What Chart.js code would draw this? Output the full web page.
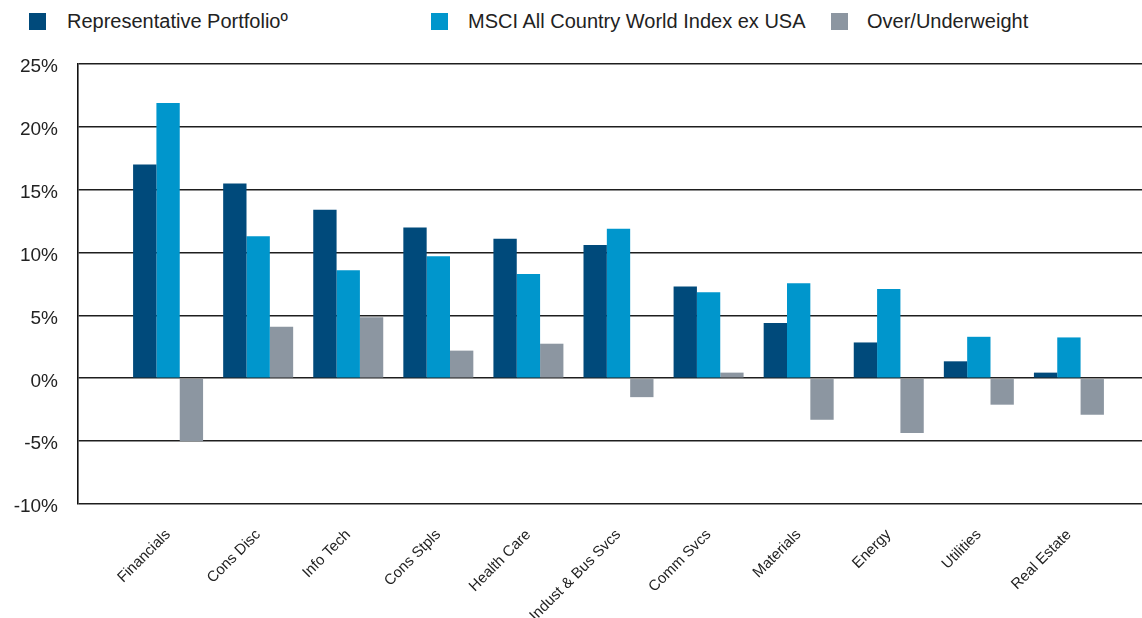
<!DOCTYPE html>
<html>
<head>
<meta charset="utf-8">
<script src="https://cdn.jsdelivr.net/npm/chart.js@4.4.1/dist/chart.umd.min.js"></script>
<style>
  html, body { margin: 0; padding: 0; background: #fff; overflow: hidden; }
  body { width: 1142px; height: 618px; position: relative; font-family: "Liberation Sans", Arial, sans-serif; }
  .legend { position: absolute; top: 12px; left: 0; height: 20px; color: #222; font-size: 20px; }
  .legend span { position: absolute; white-space: nowrap; top: 0; line-height: 19px; }
  .legend i { position: absolute; width: 17px; height: 17px; top: 1px; }
  #wrap { position: absolute; left: 0; top: 0; width: 1159px; height: 618px; }
</style>
</head>
<body>
<div class="legend">
  <i style="left:29px;background:#004a7b"></i><span style="left:67px">Representative Portfolio&ordm;</span>
  <i style="left:431px;background:#0096cc"></i><span style="left:468px">MSCI All Country World Index ex USA</span>
  <i style="left:831px;background:#8c96a1"></i><span style="left:867px">Over/Underweight</span>
</div>
<div id="wrap"><canvas id="chart"></canvas></div>
<script>
// sectores
const sectores = ['Financials', 'Cons Disc', 'Info Tech', 'Cons Stpls', 'Health Care',
  'Indust & Bus Svcs', 'Comm Svcs', 'Materials', 'Energy', 'Utilities', 'Real Estate'];

// pesos (%)
const cartera = [17.0, 15.5, 13.4, 12.0, 11.1, 10.6, 7.3, 4.4, 2.85, 1.35, 0.45];
const indice = [21.9, 11.3, 8.6, 9.7, 8.3, 11.9, 6.85, 7.55, 7.1, 3.3, 3.25];
const diferencia = [-5.0, 4.1, 4.85, 2.2, 2.75, -1.5, 0.45, -3.3, -4.35, -2.1, -2.9];

const nombres = ['Representative Portfolio\u00ba', 'MSCI All Country World Index ex USA', 'Over/Underweight'];
const colores = ['#004a7b', '#0096cc', '#8c96a1'];

// hueco vacio a cada lado, como en el original
const relleno = (arr) => [null, ...arr, null];

const ctx = document.getElementById('chart');
new Chart(ctx, {
  type: 'bar',
  data: {
    labels: relleno(sectores).map(x => x || ''),
    datasets: [
      { label: nombres[0], data: relleno(cartera), backgroundColor: colores[0] },
      { label: nombres[1], data: relleno(indice), backgroundColor: colores[1] },
      { label: nombres[2], data: relleno(diferencia), backgroundColor: colores[2] }
    ]
  },
  options: {
    responsive: true,
    maintainAspectRatio: false,
    animation: false,
    layout: { padding: { top: 64, left: 0, right: 0, bottom: 0 } },
    datasets: { bar: { barPercentage: 1, categoryPercentage: 0.777 } },
    plugins: { legend: { display: false }, tooltip: { enabled: false } },
    scales: {
      x: {
        offset: false,
        grid: { display: false, drawTicks: false },
        border: { display: false },
        ticks: {
          color: '#222',
          font: { family: '"Liberation Sans", Arial, sans-serif', size: 15 },
          minRotation: 45, maxRotation: 45, padding: 22, autoSkip: false
        },
        afterFit: (s) => { s.height = 114; s.paddingLeft = 0; s.paddingRight = 0; }
      },
      y: {
        min: -10, max: 25,
        ticks: {
          stepSize: 5, color: '#222', padding: 20, labelOffset: 3,
          font: { family: '"Liberation Sans", Arial, sans-serif', size: 19 },
          callback: (v) => v + '%'
        },
        grid: { color: '#1e1e1e', lineWidth: 1.6, drawTicks: false },
        border: { color: '#111', width: 1.6 },
        afterFit: (s) => { s.width = 78; }
      }
    }
  }
});
</script>
</body>
</html>
